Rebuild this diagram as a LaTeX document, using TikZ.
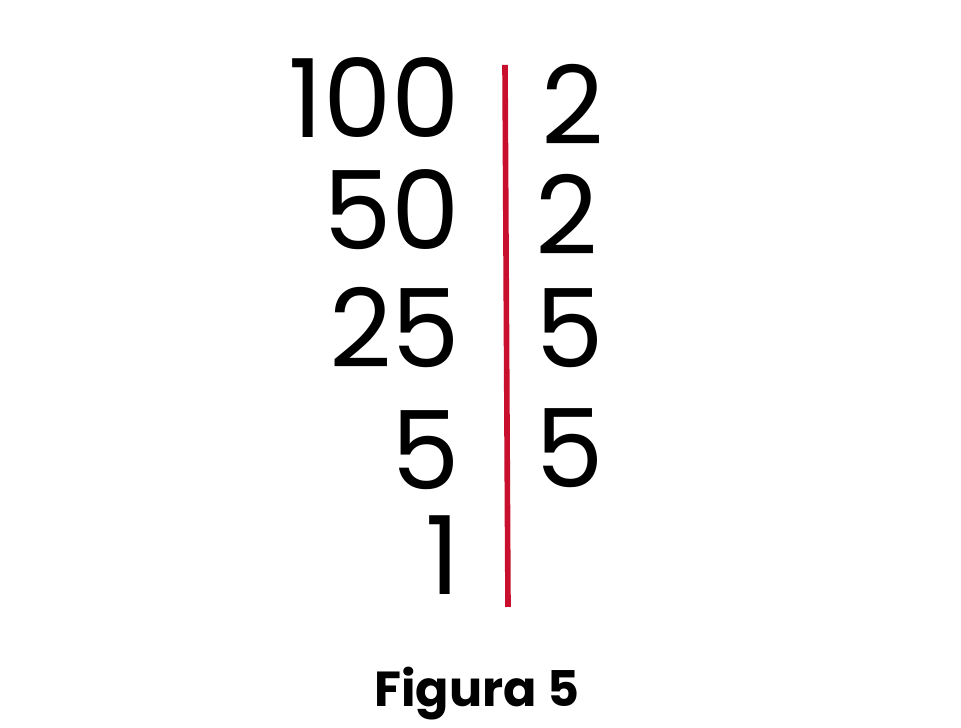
\documentclass[tikz,border=0pt]{standalone}
\usepackage{fontspec}
\setmainfont{Poppins}
\usepackage{tikz}
\definecolor{divred}{HTML}{C8102E}
\begin{document}
\begin{tikzpicture}[every node/.style={inner sep=0pt,font=\fontsize{31}{36}\selectfont},
    num/.style={anchor=base east},
    fac/.style={anchor=base west}]
      \useasboundingbox (0,0) rectangle (9.61,7.28);
      \node[num] (n100) at (4.61,5.90) {100};
      \node[num] (n50) at (4.61,4.78) {50};
      \node[num] (n25) at (4.61,3.60) {25};
      \node[num] (n5) at (4.61,2.38) {5};
      \node[num] (n1) at (4.61,1.33) {1};
      \node[fac] (f1) at (5.41,5.83) {2};
      \node[fac] (f2) at (5.35,4.73) {2};
      \node[fac] (f3) at (5.35,3.60) {5};
      \node[fac] (f4) at (5.35,2.40) {5};
      \coordinate (top) at (5.05,6.63);
      \coordinate (bot) at (5.08,1.21);
      \draw[divred,line width=1.6pt] (top) -- (bot);
      \node[anchor=base,font=\fontsize{14}{17}\selectfont\bfseries] (cap) at (4.77,0.21) {Figura 5};
    \end{tikzpicture}
\end{document}
